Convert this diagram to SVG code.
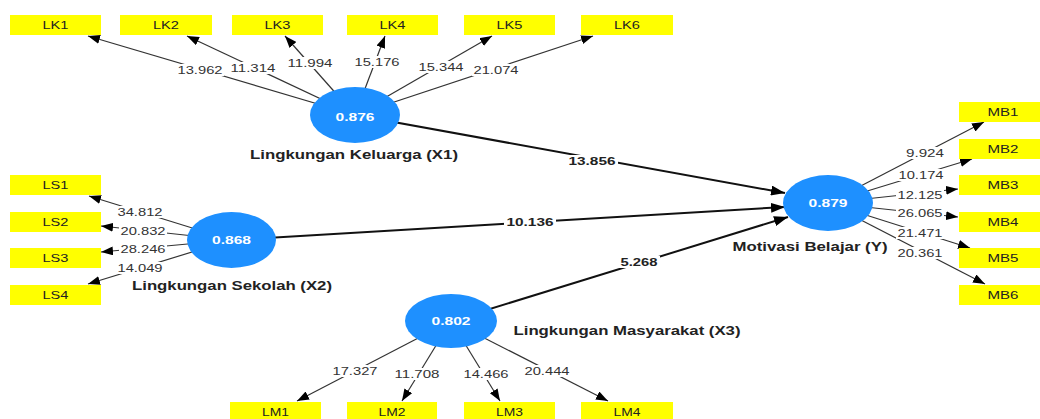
<svg xmlns="http://www.w3.org/2000/svg" width="1040" height="419" viewBox="0 0 1040 419">
<style>
.box{fill:#ffff00}
.bg{fill:#fff}
.bt{font-family:"Liberation Sans",Arial,sans-serif;font-size:11px;fill:#222;text-anchor:middle}
.lv{font-family:"Liberation Sans",Arial,sans-serif;font-size:11px;fill:#333;text-anchor:middle}
.sv{font-family:"Liberation Sans",Arial,sans-serif;font-size:11px;font-weight:bold;fill:#222;text-anchor:middle}
.cv{font-family:"Liberation Sans",Arial,sans-serif;font-size:11px;font-weight:bold;fill:#fff;text-anchor:middle}
.cn{font-family:"Liberation Sans",Arial,sans-serif;font-size:12px;font-weight:bold;fill:#222;text-anchor:middle}
.ell{fill:#1e90ff}
.m{stroke:#333;stroke-width:1.2;fill:none;marker-end:url(#ah)}
.s{stroke:#111;stroke-width:2;fill:none;marker-end:url(#ahs)}
</style>
<defs>
<marker id="ah" markerUnits="userSpaceOnUse" markerWidth="12" markerHeight="9" refX="12" refY="4.5" orient="auto"><path d="M0,0 L12,4.5 L0,9 z" fill="#000"/></marker>
<marker id="ahs" markerUnits="userSpaceOnUse" markerWidth="14" markerHeight="10" refX="14" refY="5" orient="auto"><path d="M0,0 L14,5 L0,10 z" fill="#000"/></marker>
</defs>
<rect width="1040" height="419" fill="#fff"/>
<g id="connectors">
<line class="m" x1="355" y1="115" x2="88" y2="36"/>
<line class="m" x1="355" y1="115" x2="187" y2="36"/>
<line class="m" x1="355" y1="115" x2="285" y2="36"/>
<line class="m" x1="355" y1="115" x2="385" y2="36"/>
<line class="m" x1="355" y1="115" x2="492" y2="36"/>
<line class="m" x1="355" y1="115" x2="593" y2="36"/>
<line class="m" x1="231" y1="240" x2="89" y2="196"/>
<line class="m" x1="231" y1="240" x2="101" y2="226"/>
<line class="m" x1="231" y1="240" x2="101" y2="252"/>
<line class="m" x1="231" y1="240" x2="88" y2="284"/>
<line class="m" x1="451" y1="321" x2="297" y2="401"/>
<line class="m" x1="451" y1="321" x2="402" y2="401"/>
<line class="m" x1="451" y1="321" x2="500" y2="401"/>
<line class="m" x1="451" y1="321" x2="608" y2="401"/>
<line class="m" x1="828" y1="203" x2="984" y2="122"/>
<line class="m" x1="828" y1="203" x2="972" y2="159"/>
<line class="m" x1="828" y1="203" x2="958" y2="189"/>
<line class="m" x1="828" y1="203" x2="958" y2="217"/>
<line class="m" x1="828" y1="203" x2="970" y2="248"/>
<line class="m" x1="828" y1="203" x2="985" y2="284"/>
<line class="s" x1="355" y1="115" x2="785" y2="193"/>
<line class="s" x1="231" y1="240" x2="785" y2="207"/>
<line class="s" x1="451" y1="321" x2="788" y2="217"/>
<rect class="bg" x="176" y="64" width="48" height="12"/><text class="lv" x="200" y="74" textLength="45" lengthAdjust="spacingAndGlyphs">13.962</text>
<rect class="bg" x="229" y="62" width="48" height="12"/><text class="lv" x="253" y="72" textLength="45" lengthAdjust="spacingAndGlyphs">11.314</text>
<rect class="bg" x="286" y="57" width="48" height="12"/><text class="lv" x="310" y="67" textLength="45" lengthAdjust="spacingAndGlyphs">11.994</text>
<rect class="bg" x="353" y="56" width="48" height="12"/><text class="lv" x="377" y="66" textLength="45" lengthAdjust="spacingAndGlyphs">15.176</text>
<rect class="bg" x="417" y="61" width="48" height="12"/><text class="lv" x="441" y="71" textLength="45" lengthAdjust="spacingAndGlyphs">15.344</text>
<rect class="bg" x="472" y="64" width="48" height="12"/><text class="lv" x="496" y="74" textLength="45" lengthAdjust="spacingAndGlyphs">21.074</text>
<rect class="bg" x="116" y="206" width="48" height="12"/><text class="lv" x="140" y="216" textLength="45" lengthAdjust="spacingAndGlyphs">34.812</text>
<rect class="bg" x="119" y="225" width="48" height="12"/><text class="lv" x="143" y="235" textLength="45" lengthAdjust="spacingAndGlyphs">20.832</text>
<rect class="bg" x="119" y="243" width="48" height="12"/><text class="lv" x="143" y="253" textLength="45" lengthAdjust="spacingAndGlyphs">28.246</text>
<rect class="bg" x="116" y="262" width="48" height="12"/><text class="lv" x="140" y="272" textLength="45" lengthAdjust="spacingAndGlyphs">14.049</text>
<rect class="bg" x="331" y="365" width="48" height="12"/><text class="lv" x="355" y="375" textLength="45" lengthAdjust="spacingAndGlyphs">17.327</text>
<rect class="bg" x="393" y="368" width="48" height="12"/><text class="lv" x="417" y="378" textLength="45" lengthAdjust="spacingAndGlyphs">11.708</text>
<rect class="bg" x="462" y="368" width="48" height="12"/><text class="lv" x="486" y="378" textLength="45" lengthAdjust="spacingAndGlyphs">14.466</text>
<rect class="bg" x="523" y="365" width="48" height="12"/><text class="lv" x="547" y="375" textLength="45" lengthAdjust="spacingAndGlyphs">20.444</text>
<rect class="bg" x="904" y="147" width="42" height="12"/><text class="lv" x="925" y="157" textLength="38" lengthAdjust="spacingAndGlyphs">9.924</text>
<rect class="bg" x="897" y="169" width="48" height="12"/><text class="lv" x="921" y="179" textLength="45" lengthAdjust="spacingAndGlyphs">10.174</text>
<rect class="bg" x="896" y="189" width="48" height="12"/><text class="lv" x="920" y="199" textLength="45" lengthAdjust="spacingAndGlyphs">12.125</text>
<rect class="bg" x="896" y="207" width="48" height="12"/><text class="lv" x="920" y="217" textLength="45" lengthAdjust="spacingAndGlyphs">26.065</text>
<rect class="bg" x="896" y="227" width="48" height="12"/><text class="lv" x="920" y="237" textLength="45" lengthAdjust="spacingAndGlyphs">21.471</text>
<rect class="bg" x="896" y="247" width="48" height="12"/><text class="lv" x="920" y="257" textLength="45" lengthAdjust="spacingAndGlyphs">20.361</text>
<rect class="bg" x="566" y="155" width="52" height="12"/><text class="sv" x="592" y="165" textLength="47" lengthAdjust="spacingAndGlyphs">13.856</text>
<rect class="bg" x="504" y="216" width="52" height="12"/><text class="sv" x="530" y="226" textLength="47" lengthAdjust="spacingAndGlyphs">10.136</text>
<rect class="bg" x="618" y="256" width="42" height="12"/><text class="sv" x="639" y="266" textLength="37" lengthAdjust="spacingAndGlyphs">5.268</text>
</g>
<g id="LK1"><rect class="box" x="10" y="15" width="91" height="20"/><text class="bt" x="55.5" y="29" textLength="26" lengthAdjust="spacingAndGlyphs">LK1</text></g>
<g id="LK2"><rect class="box" x="120" y="15" width="92" height="20"/><text class="bt" x="166" y="29" textLength="26" lengthAdjust="spacingAndGlyphs">LK2</text></g>
<g id="LK3"><rect class="box" x="232" y="15" width="91" height="20"/><text class="bt" x="277.5" y="29" textLength="26" lengthAdjust="spacingAndGlyphs">LK3</text></g>
<g id="LK4"><rect class="box" x="347" y="15" width="91" height="20"/><text class="bt" x="392.5" y="29" textLength="26" lengthAdjust="spacingAndGlyphs">LK4</text></g>
<g id="LK5"><rect class="box" x="464" y="15" width="91" height="20"/><text class="bt" x="509.5" y="29" textLength="26" lengthAdjust="spacingAndGlyphs">LK5</text></g>
<g id="LK6"><rect class="box" x="581" y="15" width="92" height="20"/><text class="bt" x="627" y="29" textLength="26" lengthAdjust="spacingAndGlyphs">LK6</text></g>
<g id="LS1"><rect class="box" x="10" y="175" width="91" height="20"/><text class="bt" x="55.5" y="189" textLength="26" lengthAdjust="spacingAndGlyphs">LS1</text></g>
<g id="LS2"><rect class="box" x="10" y="212" width="91" height="20"/><text class="bt" x="55.5" y="226" textLength="26" lengthAdjust="spacingAndGlyphs">LS2</text></g>
<g id="LS3"><rect class="box" x="10" y="248" width="91" height="20"/><text class="bt" x="55.5" y="262" textLength="26" lengthAdjust="spacingAndGlyphs">LS3</text></g>
<g id="LS4"><rect class="box" x="10" y="285" width="91" height="20"/><text class="bt" x="55.5" y="299" textLength="26" lengthAdjust="spacingAndGlyphs">LS4</text></g>
<g id="LM1"><rect class="box" x="230" y="402" width="91" height="20"/><text class="bt" x="275.5" y="416" textLength="27" lengthAdjust="spacingAndGlyphs">LM1</text></g>
<g id="LM2"><rect class="box" x="347" y="402" width="90" height="20"/><text class="bt" x="392" y="416" textLength="27" lengthAdjust="spacingAndGlyphs">LM2</text></g>
<g id="LM3"><rect class="box" x="464" y="402" width="91" height="20"/><text class="bt" x="509.5" y="416" textLength="27" lengthAdjust="spacingAndGlyphs">LM3</text></g>
<g id="LM4"><rect class="box" x="581" y="402" width="92" height="20"/><text class="bt" x="627" y="416" textLength="27" lengthAdjust="spacingAndGlyphs">LM4</text></g>
<g id="MB1"><rect class="box" x="959" y="102" width="81" height="20"/><text class="bt" x="1003" y="116" textLength="31" lengthAdjust="spacingAndGlyphs">MB1</text></g>
<g id="MB2"><rect class="box" x="959" y="139" width="81" height="20"/><text class="bt" x="1003" y="153" textLength="31" lengthAdjust="spacingAndGlyphs">MB2</text></g>
<g id="MB3"><rect class="box" x="959" y="175" width="81" height="20"/><text class="bt" x="1003" y="189" textLength="31" lengthAdjust="spacingAndGlyphs">MB3</text></g>
<g id="MB4"><rect class="box" x="959" y="212" width="81" height="20"/><text class="bt" x="1003" y="226" textLength="31" lengthAdjust="spacingAndGlyphs">MB4</text></g>
<g id="MB5"><rect class="box" x="959" y="248" width="81" height="20"/><text class="bt" x="1003" y="262" textLength="31" lengthAdjust="spacingAndGlyphs">MB5</text></g>
<g id="MB6"><rect class="box" x="959" y="285" width="81" height="20"/><text class="bt" x="1003" y="299" textLength="31" lengthAdjust="spacingAndGlyphs">MB6</text></g>
<g id="X1"><ellipse class="ell" cx="355" cy="115" rx="45" ry="28"/><text class="cv" x="355" y="121" textLength="39" lengthAdjust="spacingAndGlyphs">0.876</text><text class="cn" x="354" y="159" textLength="208" lengthAdjust="spacingAndGlyphs">Lingkungan Keluarga (X1)</text></g>
<g id="X2"><ellipse class="ell" cx="231.5" cy="240" rx="44.5" ry="28"/><text class="cv" x="231.5" y="244" textLength="39" lengthAdjust="spacingAndGlyphs">0.868</text><text class="cn" x="232" y="290" textLength="200" lengthAdjust="spacingAndGlyphs">Lingkungan Sekolah (X2)</text></g>
<g id="X3"><ellipse class="ell" cx="451" cy="321" rx="46" ry="27"/><text class="cv" x="451" y="325" textLength="39" lengthAdjust="spacingAndGlyphs">0.802</text><text class="cn" x="627" y="335" textLength="227" lengthAdjust="spacingAndGlyphs">Lingkungan Masyarakat (X3)</text></g>
<g id="Y"><ellipse class="ell" cx="828" cy="203" rx="45" ry="28"/><text class="cv" x="828" y="207" textLength="39" lengthAdjust="spacingAndGlyphs">0.879</text><text class="cn" x="810" y="251" textLength="155" lengthAdjust="spacingAndGlyphs">Motivasi Belajar (Y)</text></g>
</svg>
